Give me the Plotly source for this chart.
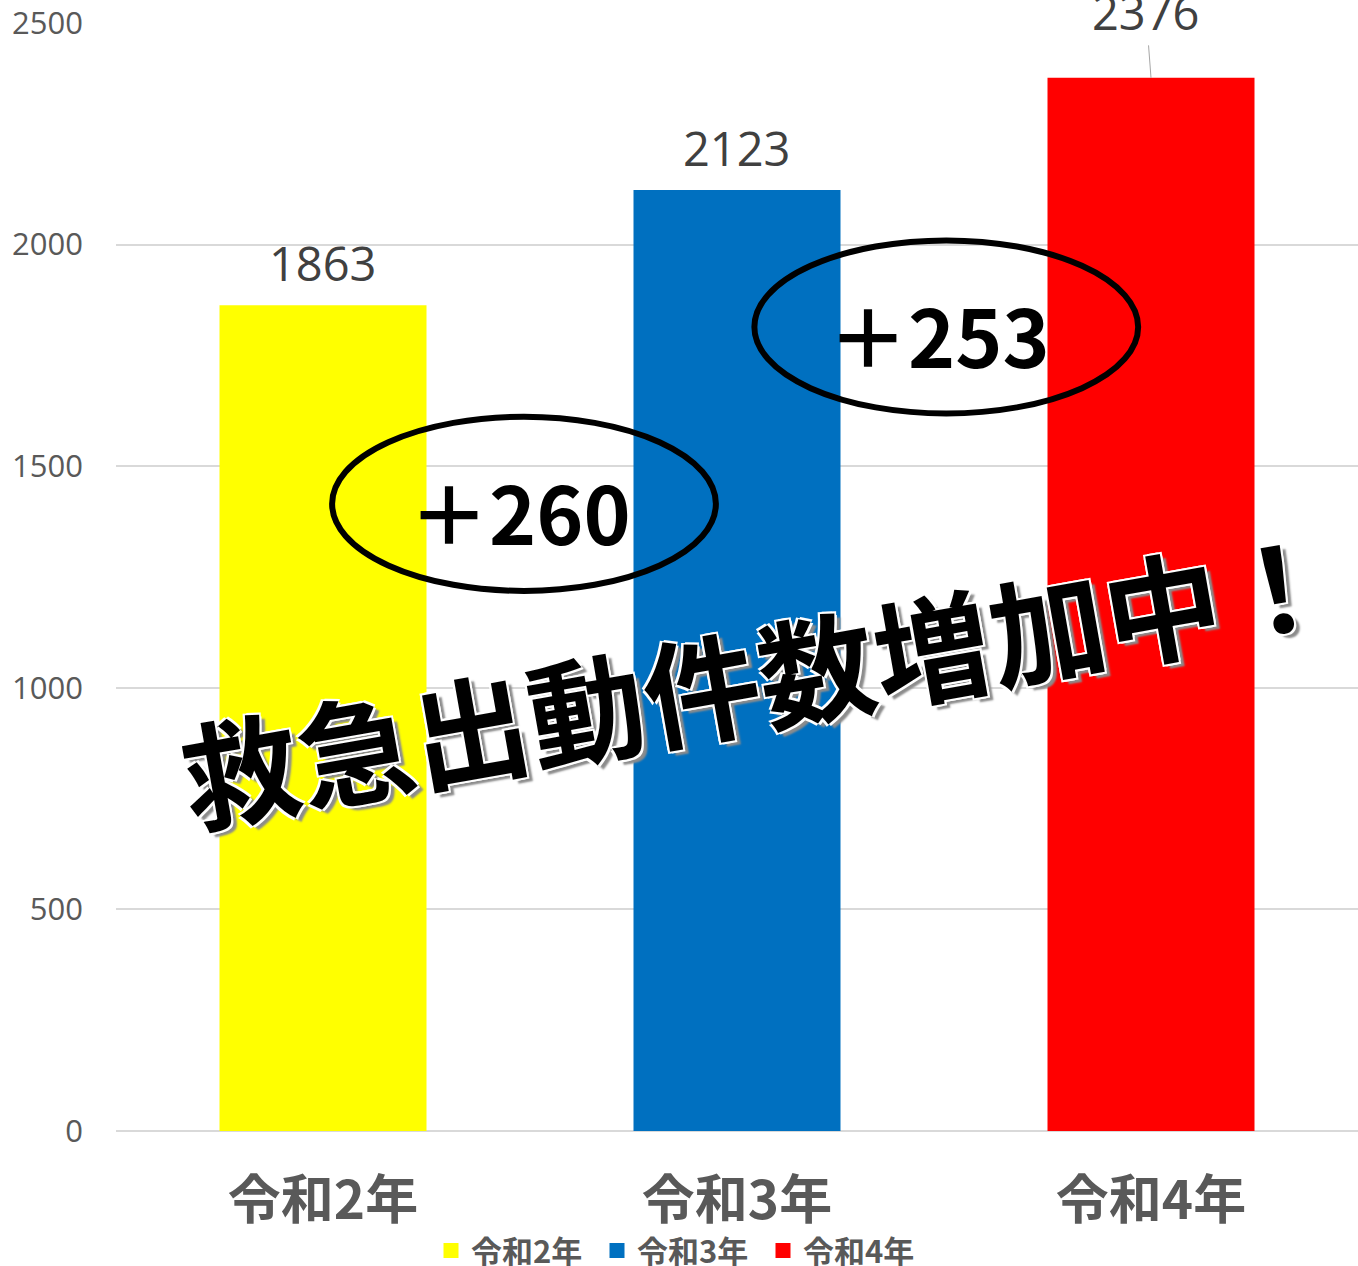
import plotly.graph_objects as go

categories = ["令和2年", "令和3年", "令和4年"]
values = [1863, 2123, 2376]
colors = ["#FFFF00", "#0070C0", "#FF0000"]
y_ticks = [0, 500, 1000, 1500, 2000, 2500]
diff_labels = ["＋260", "＋253"]
headline = "救急出動件数増加中！"

CJK = "Noto Sans CJK JP"
fig = go.Figure()
for c, v, col in zip(categories, values, colors):
    fig.add_trace(go.Bar(
        x=[c], y=[v], name=c, marker=dict(color=col, line=dict(width=0)),
        width=0.5, offsetgroup=0, showlegend=False,
    ))
# legend entries with larger square swatches
for c, col in zip(categories, colors):
    fig.add_trace(go.Scatter(
        x=[None], y=[None], mode="markers", name=c,
        marker=dict(symbol="square", size=15, color=col),
    ))

# data labels
for i, (c, v) in enumerate(zip(categories, values)):
    if i < 2:
        fig.add_annotation(x=c, y=v, text=str(v), showarrow=False, yanchor="middle",
                           yshift=42, font=dict(family="Open Sans", size=47, color="#404040"))
    else:
        fig.add_annotation(x=c, y=v, text=str(v), showarrow=True, arrowhead=0,
                           arrowwidth=1, arrowcolor="#A6A6A6", ax=-5, ay=-66,
                           font=dict(family="Open Sans", size=47, color="#404040"))

# ellipses (paper coords)
ell = [(0.174, 0.487, 0.483, 0.644), (0.514, 0.647, 0.823, 0.803)]
for (x0, y0, x1, y1) in ell:
    fig.add_shape(type="circle", xref="paper", yref="paper", x0=x0, y0=y0, x1=x1, y1=y1,
                  line=dict(color="black", width=6), fillcolor="rgba(0,0,0,0)")
pos = [(0.325, 0.560), (0.663, 0.720)]
for (px, py), t in zip(pos, diff_labels):
    fig.add_annotation(xref="paper", yref="paper", x=px, y=py, xanchor="center", yanchor="middle",
                       text=t, showarrow=False,
                       font=dict(family=CJK, size=80, color="black", weight="bold"))

fig.add_annotation(xref="paper", yref="paper", x=(758 - 116) / 1242, y=(1131 - 674) / 1109,
                   xanchor="center", yanchor="middle",
                   text=headline, showarrow=False, textangle=-10,
                   font=dict(family=CJK, size=117, color="black", weight="bold",
                             shadow="2px 2px 0 #fff, -2px -2px 0 #fff, 2px -2px 0 #fff, -2px 2px 0 #fff, 5px 5px 2px #8c8c8c"))

fig.update_layout(
    width=1358, height=1266,
    margin=dict(l=116, r=0, t=22, b=135, autoexpand=False),
    plot_bgcolor="white", paper_bgcolor="white",
    barmode="group",
    showlegend=True,
    legend=dict(orientation="h", x=(431 - 116) / 1242, xanchor="left", y=-0.108, yanchor="middle",
                font=dict(family=CJK, size=31, color="#595959", weight="bold"),
                entrywidth=121, entrywidthmode="pixels", itemwidth=30, tracegroupgap=0),
    xaxis=dict(type="category", tickfont=dict(family=CJK, size=53, color="#595959", weight="bold"),
               showgrid=False, showline=False, ticks="", ticklabelstandoff=34, automargin=False),
    yaxis=dict(range=[0, 2502], tickvals=y_ticks, showgrid=True, gridcolor="#D9D9D9", gridwidth=1.5,
               zeroline=True, zerolinecolor="#D9D9D9", zerolinewidth=1.5, showline=False,
               tickfont=dict(family="Open Sans", size=31, color="#595959"), ticklabelstandoff=32,
               automargin=False),
)
fig.write_html("out.html", config={"displayModeBar": False},
               post_script="document.body.style.margin='0';document.body.style.overflow='hidden';")
